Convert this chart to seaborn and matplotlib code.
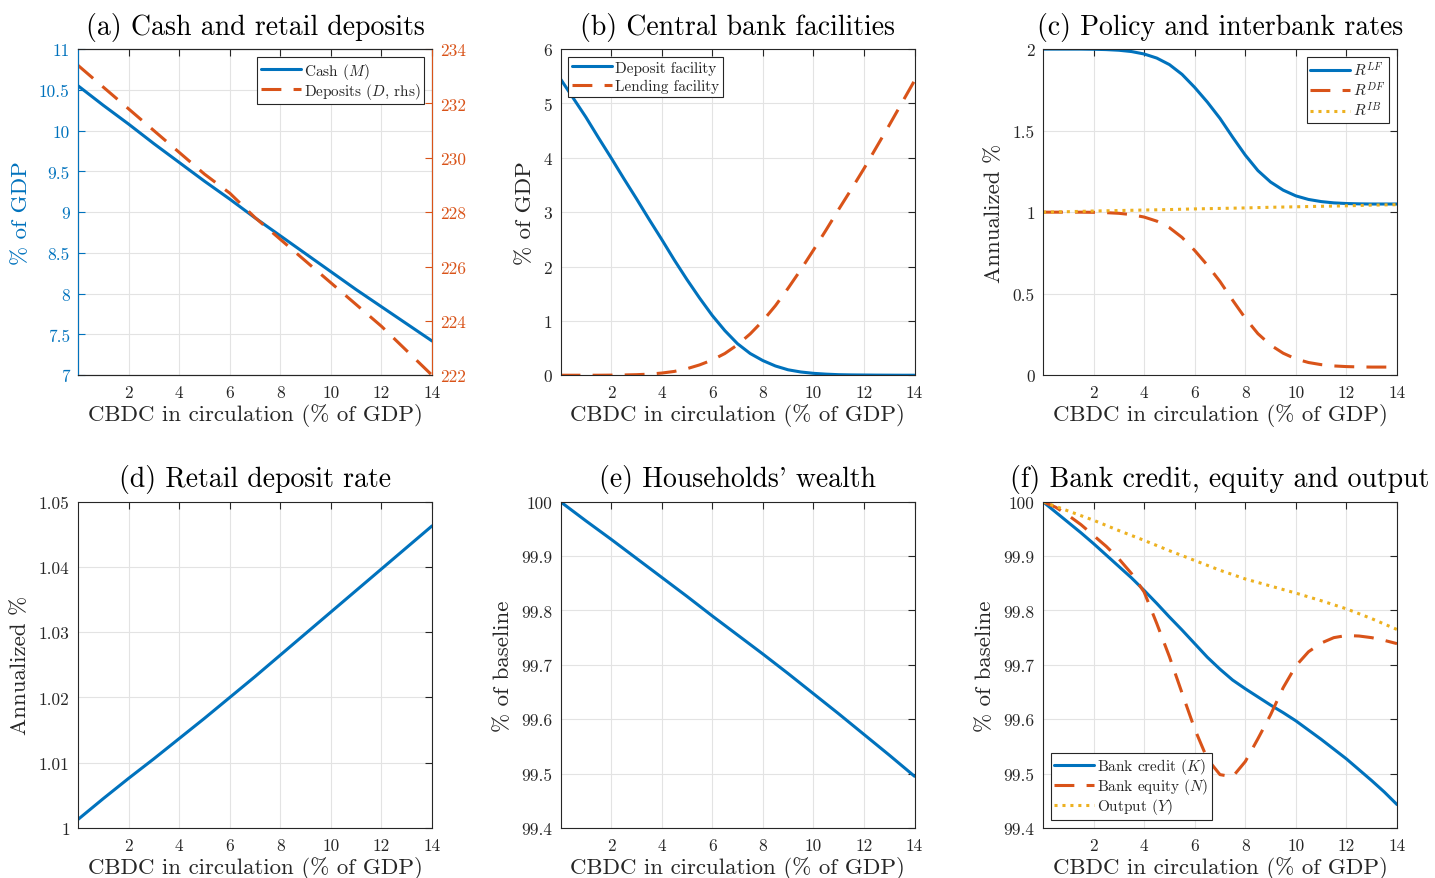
import matplotlib
matplotlib.use("Agg")
import matplotlib.pyplot as plt
import matplotlib.ticker as mticker
import seaborn as sns

# --- data ---
# CBDC in circulation (% of GDP)
cbdc = [0, 1, 2, 3, 4, 5, 6, 7, 8, 9, 10, 11, 12, 13, 14]
cbdc_fine = [0, 0.5, 1, 1.5, 2, 2.5, 3, 3.5, 4, 4.5, 5, 5.5, 6, 6.5, 7,
             7.5, 8, 8.5, 9, 9.5, 10, 10.5, 11, 11.5, 12, 12.5, 13, 13.5, 14]

# (a) cash and retail deposits
cash = [10.55, 10.31, 10.08, 9.84, 9.61, 9.38, 9.16, 8.93, 8.71, 8.49,
        8.27, 8.05, 7.84, 7.63, 7.42]
deposits = [233.4, 232.6, 231.8, 231.0, 230.2, 229.4, 228.7, 227.8, 227.0,
            226.2, 225.4, 224.6, 223.8, 222.9, 222.0]

# (b) central bank facilities
deposit_facility = [5.45, 5.1, 4.75, 4.37, 4.0, 3.62, 3.25, 2.87, 2.5, 2.12,
                    1.76, 1.42, 1.1, 0.82, 0.58, 0.4, 0.27, 0.17, 0.1, 0.06,
                    0.035, 0.02, 0.01, 0.006, 0.004, 0.002, 0.001, 0.0, 0.0]
lending_facility = [0.0, 0.0, 0.0, 0.0, 0.002, 0.005, 0.01, 0.02, 0.04, 0.07,
                    0.12, 0.19, 0.28, 0.4, 0.56, 0.76, 1.0, 1.28, 1.6, 1.94,
                    2.3, 2.67, 3.05, 3.42, 3.8, 4.2, 4.6, 5.01, 5.42]

# (c) policy and interbank rates
r_lf = [2.0, 2.0, 2.0, 2.0, 1.999, 1.997, 1.993, 1.985, 1.97, 1.945, 1.905,
        1.845, 1.765, 1.675, 1.575, 1.46, 1.35, 1.255, 1.185, 1.135, 1.1,
        1.078, 1.065, 1.057, 1.053, 1.051, 1.05, 1.05, 1.05]
r_df = [1.0, 1.0, 1.0, 1.0, 0.999, 0.997, 0.993, 0.985, 0.97, 0.945, 0.905,
        0.845, 0.765, 0.675, 0.575, 0.46, 0.35, 0.255, 0.185, 0.135, 0.1,
        0.078, 0.065, 0.057, 0.053, 0.051, 0.05, 0.05, 0.05]
r_ib = [1.0, 1.003, 1.007, 1.01, 1.013, 1.016, 1.02, 1.023, 1.026, 1.03,
        1.033, 1.036, 1.039, 1.043, 1.046]

# (d) retail deposit rate
deposit_rate = [1.0013, 1.0045, 1.0076, 1.0106, 1.0137, 1.0168, 1.0200,
                1.0232, 1.0265, 1.0298, 1.0331, 1.0364, 1.0397, 1.0430, 1.0463]

# (e) households' wealth
wealth = [100.0, 99.965, 99.931, 99.896, 99.861, 99.826, 99.79, 99.755,
          99.72, 99.684, 99.647, 99.61, 99.572, 99.534, 99.495]

# (f) bank credit, equity and output
bank_credit = [100.0, 99.981, 99.962, 99.943, 99.923, 99.902, 99.881, 99.86,
               99.837, 99.813, 99.788, 99.764, 99.739, 99.714, 99.692, 99.672,
               99.656, 99.641, 99.626, 99.612, 99.597, 99.58, 99.563, 99.545,
               99.527, 99.507, 99.487, 99.466, 99.443]
bank_equity = [100.0, 99.99, 99.975, 99.958, 99.938, 99.918, 99.895, 99.868,
               99.834, 99.776, 99.715, 99.648, 99.582, 99.527, 99.498, 99.494,
               99.522, 99.564, 99.608, 99.658, 99.698, 99.724, 99.74, 99.75,
               99.754, 99.753, 99.75, 99.745, 99.739]
output = [100.0, 99.983, 99.966, 99.947, 99.929, 99.91, 99.892, 99.874,
          99.858, 99.845, 99.832, 99.818, 99.803, 99.785, 99.765]

BLUE = "#0072BD"
ORANGE = "#D95319"
YELLOW = "#EDB120"
DARK = "#262626"
DASH = (0, (6.5, 4))
DOT = (0, (1, 1.6))

sns.set_theme(style="whitegrid")
plt.rcParams["font.family"] = ["cmr10", "DejaVu Serif"]
plt.rcParams["mathtext.fontset"] = "cm"
plt.rcParams["axes.formatter.use_mathtext"] = True
plt.rcParams["axes.unicode_minus"] = False

fig, axes = plt.subplots(2, 3, figsize=(14.35, 8.79), dpi=100)
fig.subplots_adjust(left=0.0544, right=0.9735, top=0.943, bottom=0.057,
                    wspace=0.363, hspace=0.388)

fmt = mticker.FuncFormatter(lambda v, p: f"{v:g}")


def style_axes(ax, ylim, yticks, ylabel, title, right=True):
    ax.set_xlim(0, 14)
    ax.set_xticks([2, 4, 6, 8, 10, 12, 14])
    ax.set_ylim(*ylim)
    ax.set_yticks(yticks)
    ax.xaxis.set_major_formatter(fmt)
    ax.yaxis.set_major_formatter(fmt)
    ax.grid(True, color="#e3e3e3", linewidth=0.8)
    ax.set_axisbelow(True)
    ax.tick_params(direction="in", top=True, right=right, length=5,
                   width=0.8, labelsize=12.5, colors=DARK, pad=6)
    ax.tick_params(axis="x", pad=7)
    for s in ax.spines.values():
        s.set_color(DARK)
        s.set_linewidth(0.8)
    ax.set_xlabel("CBDC in circulation (% of GDP)", fontsize=16.5,
                  color=DARK, labelpad=2)
    ax.set_ylabel(ylabel, fontsize=16.5, color=DARK, labelpad=6)
    ax.set_title(title, fontsize=20, color="black", pad=11)


def add_legend(ax, handles, loc, spacing=0.0):
    leg = ax.legend(handles=handles, loc=loc, fontsize=11, frameon=True,
                    fancybox=False, edgecolor=DARK, framealpha=1,
                    handlelength=2.6, handletextpad=0.2, labelspacing=spacing,
                    borderpad=0.25, borderaxespad=0.5)
    leg.get_frame().set_linewidth(0.8)
    return leg


lw = 2.2

# (a)
ax = axes[0, 0]
sns.lineplot(x=cbdc, y=cash, ax=ax, color=BLUE, linewidth=lw,
             label="Cash ($M$)", legend=False)
style_axes(ax, (7, 11), [7, 7.5, 8, 8.5, 9, 9.5, 10, 10.5, 11], "% of GDP",
           "(a) Cash and retail deposits", right=False)
ax.tick_params(axis="y", colors=BLUE)
ax.yaxis.label.set_color(BLUE)
ax2 = ax.twinx()
sns.lineplot(x=cbdc, y=deposits, ax=ax2, color=ORANGE, linewidth=lw,
             linestyle=DASH, label="Deposits ($D$, rhs)", legend=False)
ax2.set_ylim(222, 234)
ax2.set_yticks([222, 224, 226, 228, 230, 232, 234])
ax2.yaxis.set_major_formatter(fmt)
ax2.grid(False)
ax2.set_ylabel("")
ax2.tick_params(direction="in", length=5, width=0.8, labelsize=12.5,
                colors=ORANGE, pad=6)
for s in ax2.spines.values():
    s.set_color(DARK)
    s.set_linewidth(0.8)
ax2.spines["left"].set_color(BLUE)
ax2.spines["right"].set_color(ORANGE)
add_legend(ax2, ax.get_lines()[:1] + ax2.get_lines()[:1], "upper right")

# (b)
ax = axes[0, 1]
sns.lineplot(x=cbdc_fine, y=deposit_facility, ax=ax, color=BLUE,
             linewidth=lw, label="Deposit facility", legend=False)
sns.lineplot(x=cbdc_fine, y=lending_facility, ax=ax, color=ORANGE,
             linewidth=lw, linestyle=DASH, label="Lending facility",
             legend=False)
style_axes(ax, (0, 6), [0, 1, 2, 3, 4, 5, 6], "% of GDP",
           "(b) Central bank facilities")
add_legend(ax, ax.get_lines(), "upper left", spacing=0.27)

# (c)
ax = axes[0, 2]
sns.lineplot(x=cbdc_fine, y=r_lf, ax=ax, color=BLUE, linewidth=lw,
             label="$R^{LF}$", legend=False)
sns.lineplot(x=cbdc_fine, y=r_df, ax=ax, color=ORANGE, linewidth=lw,
             linestyle=DASH, label="$R^{DF}$", legend=False)
sns.lineplot(x=cbdc, y=r_ib, ax=ax, color=YELLOW, linewidth=lw,
             linestyle=DOT, label="$R^{IB}$", legend=False)
style_axes(ax, (0, 2), [0, 0.5, 1, 1.5, 2], "Annualized %",
           "(c) Policy and interbank rates")
add_legend(ax, ax.get_lines(), "upper right", spacing=0.13)

# (d)
ax = axes[1, 0]
sns.lineplot(x=cbdc, y=deposit_rate, ax=ax, color=BLUE, linewidth=lw)
style_axes(ax, (1, 1.05), [1, 1.01, 1.02, 1.03, 1.04, 1.05], "Annualized %",
           "(d) Retail deposit rate")

# (e)
ax = axes[1, 1]
sns.lineplot(x=cbdc, y=wealth, ax=ax, color=BLUE, linewidth=lw)
style_axes(ax, (99.4, 100), [99.4, 99.5, 99.6, 99.7, 99.8, 99.9, 100],
           "% of baseline", "(e) Households' wealth")

# (f)
ax = axes[1, 2]
sns.lineplot(x=cbdc_fine, y=bank_credit, ax=ax, color=BLUE, linewidth=lw,
             label="Bank credit ($K$)", legend=False)
sns.lineplot(x=cbdc_fine, y=bank_equity, ax=ax, color=ORANGE, linewidth=lw,
             linestyle=DASH, label="Bank equity ($N$)", legend=False)
sns.lineplot(x=cbdc, y=output, ax=ax, color=YELLOW, linewidth=lw,
             linestyle=DOT, label="Output ($Y$)", legend=False)
style_axes(ax, (99.4, 100), [99.4, 99.5, 99.6, 99.7, 99.8, 99.9, 100],
           "% of baseline", "(f) Bank credit, equity and output")
add_legend(ax, ax.get_lines(), "lower left")

fig.savefig("out.png", dpi=100)
